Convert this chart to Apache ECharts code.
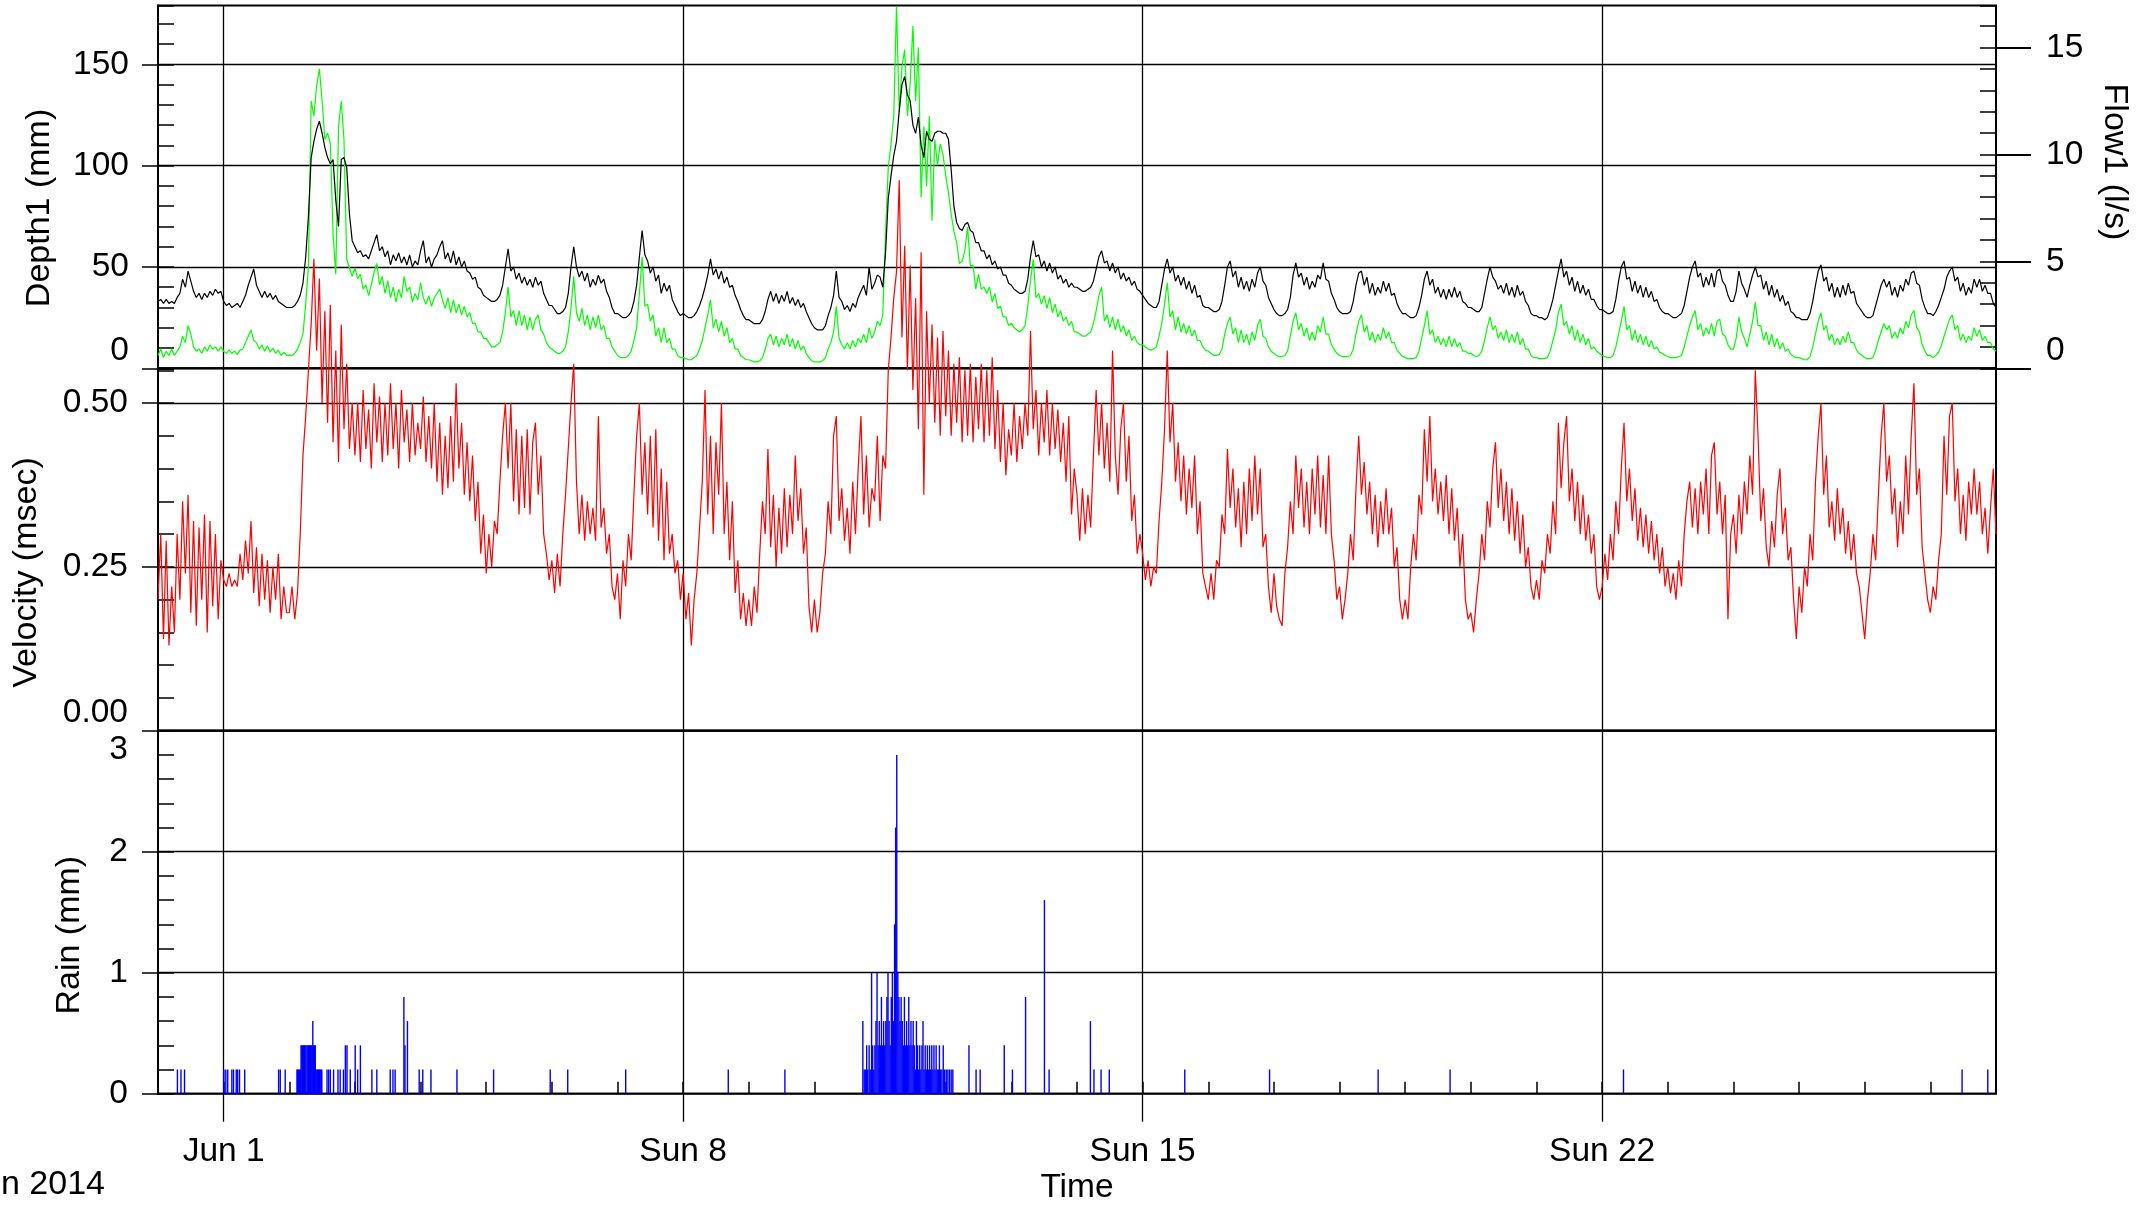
<!DOCTYPE html>
<html><head><meta charset="utf-8">
<script src="https://cdn.jsdelivr.net/npm/echarts@6/dist/echarts.min.js"></script>
<style>html,body{margin:0;padding:0;background:#fff}#chart{width:2145px;height:1208px}</style>
</head><body><div id="chart"></div>
<script>
// Hourly samples starting 2014-05-31 00:00 (x = days since May 31)
const depth = [
33,34,32,34,32,33,32,35,37,44,40,48,43,38,35,37,34,37,35,38,36,39,37,38,
33,31,32,30,31,32,30,33,36,41,45,49,41,38,35,38,35,37,34,36,33,32,31,30,
30,30,31,33,36,42,55,75,104,112,118,122,116,109,104,101,103,83,70,103,104,99,76,63,
60,57,58,55,56,54,58,62,66,58,60,55,58,51,56,53,57,52,55,51,56,50,53,51,
58,63,52,55,50,54,56,60,63,54,57,52,58,51,55,50,53,48,47,44,45,40,39,36,
35,34,33,33,34,36,41,50,59,48,50,44,47,42,45,41,44,40,45,41,43,37,34,31,
31,29,27,27,28,30,37,50,60,50,45,48,43,47,40,44,41,46,42,44,38,35,30,27,
27,26,25,25,26,28,33,41,55,68,56,53,47,50,43,46,37,42,38,41,34,31,28,26,
27,26,25,25,26,28,31,35,40,46,54,46,49,44,48,42,45,40,41,36,33,29,26,24,
24,23,22,22,22,24,28,34,38,33,37,32,36,33,38,32,35,31,34,30,32,28,25,22,
20,19,19,19,21,26,30,36,48,35,33,29,31,28,32,30,35,38,41,36,50,39,42,46,
45,40,57,84,95,105,112,127,140,144,135,132,120,116,124,110,104,117,113,112,116,117,117,116,
116,113,98,80,72,69,68,71,72,68,67,62,62,58,58,54,56,51,53,49,50,46,46,42,
41,39,38,37,37,38,44,55,63,55,56,50,53,48,52,47,50,44,46,42,44,40,42,40,
40,39,38,38,39,40,43,49,55,58,52,53,48,52,47,50,44,47,43,45,41,43,39,38,
36,34,32,31,30,30,33,41,49,54,47,50,43,46,41,45,39,43,37,41,35,36,31,30,
30,29,28,28,29,33,41,50,53,45,48,40,45,39,43,38,44,40,47,50,43,41,35,32,
29,27,26,26,27,29,35,46,52,45,47,41,45,39,43,40,46,44,52,44,43,37,34,30,
28,27,27,27,28,33,41,47,48,41,45,37,42,36,40,37,43,38,42,36,37,32,29,27,
27,26,25,25,26,30,36,44,48,41,44,37,40,35,39,34,39,35,40,35,38,33,32,30,
30,29,28,28,30,37,44,50,45,43,39,41,37,42,36,40,35,41,36,38,33,31,27,26,
26,25,25,24,25,29,34,41,48,54,45,48,41,45,38,43,37,41,36,39,34,34,31,29,
29,28,27,27,28,34,43,50,53,44,45,38,43,37,41,35,40,35,38,33,34,30,28,27,
27,26,25,25,26,27,31,38,45,50,53,45,47,40,45,41,47,40,48,49,43,41,36,33,
33,38,48,42,39,35,41,46,50,45,46,39,43,36,41,35,39,33,36,31,33,28,27,25,
25,24,24,24,27,33,41,48,51,43,45,38,42,35,40,35,41,36,42,37,38,32,30,28,
26,25,25,26,31,36,41,44,40,43,36,40,35,41,38,44,41,47,48,42,41,34,30,27,
27,26,28,31,35,39,45,48,50,43,45,38,42,36,40,37,44,40,44,38,41,37,37,32,30
];
const flow = [
0.6,0.9,0.5,0.8,0.6,0.9,0.6,0.8,1.0,1.5,1.2,2.0,1.6,1.0,0.8,0.9,0.7,1.0,0.8,1.1,0.9,1.0,0.8,1.0,
0.8,0.7,0.85,0.7,0.8,0.65,0.85,0.9,1.2,1.5,1.8,1.3,1.2,0.9,1.1,0.8,1.05,0.75,0.95,0.7,0.85,0.6,0.75,0.6,
0.6,0.6,0.7,0.9,1.2,1.6,3.0,4.8,12.5,11.8,13.2,14.0,12.5,10.7,11.0,10.5,6.3,4.4,11.3,12.5,10.7,5.1,4.7,4.3,
4.7,4.2,4.4,3.7,3.9,3.4,3.9,4.5,4.9,3.9,4.3,3.5,4.1,3.3,3.8,3.1,3.7,3.3,4.3,3.6,3.8,3.1,3.5,3.2,
4.0,3.3,3.0,3.4,2.9,3.3,3.5,3.7,3.2,2.8,3.3,2.6,3.2,2.6,3.0,2.5,2.9,2.4,2.6,2.1,2.1,1.7,1.7,1.4,
1.4,1.2,1.0,1.0,1.1,1.2,1.7,2.6,3.8,2.4,2.7,2.0,2.7,2.0,2.5,1.8,2.4,1.8,2.3,2.5,1.8,1.6,1.2,1.0,
0.9,0.8,0.7,0.7,0.8,1.0,1.7,2.8,4.3,2.6,2.2,2.8,2.0,2.5,1.8,2.4,1.9,2.5,1.8,2.0,1.4,1.4,1.0,0.8,
0.6,0.5,0.5,0.5,0.6,0.8,1.3,1.9,3.5,5.2,2.9,3.0,2.2,2.5,1.5,1.9,1.2,1.9,1.2,1.4,0.9,0.9,0.6,0.5,
0.5,0.45,0.4,0.4,0.5,0.6,0.9,1.3,1.9,2.5,3.2,1.9,2.3,1.7,2.2,1.5,1.9,1.2,1.4,0.9,0.9,0.6,0.5,0.4,
0.4,0.35,0.3,0.3,0.35,0.5,0.9,1.4,1.6,1.1,1.5,1.0,1.4,1.1,1.6,1.0,1.4,0.9,1.3,0.85,1.05,0.7,0.5,0.35,
0.3,0.3,0.3,0.35,0.5,0.9,1.2,1.7,2.9,1.4,1.1,0.9,1.2,0.9,1.3,1.0,1.4,1.2,1.6,1.2,1.9,1.4,1.7,2.2,
2.0,2.5,6.3,9.4,10.5,11.8,16.9,12.0,14.1,14.9,11.8,13.3,16.0,12.5,15.0,8.0,11.3,8.5,11.8,6.9,10.7,9.5,10.5,10.0,
9.0,8.2,7.2,6.4,5.9,4.9,5.0,5.5,6.6,4.8,4.8,3.7,4.4,3.7,3.8,3.5,3.8,3.1,3.5,2.8,2.9,2.4,2.4,2.0,
2.1,1.9,1.8,1.7,1.8,2.0,2.9,4.1,5.1,3.3,3.5,3.0,3.4,2.8,3.3,2.6,3.0,2.4,2.7,2.2,2.4,2.0,2.2,1.7,
1.7,1.6,1.5,1.5,1.6,1.7,2.1,2.7,3.4,3.8,2.2,2.5,1.9,2.4,1.8,2.3,1.7,2.0,1.5,1.8,1.3,1.5,1.2,1.1,
1.1,1.0,0.9,0.85,0.9,1.0,1.5,2.1,3.0,4.0,2.4,2.7,1.8,2.4,1.7,2.1,1.6,2.0,1.5,1.8,1.3,1.3,1.0,0.85,
0.8,0.7,0.6,0.6,0.65,0.9,1.6,2.1,2.4,1.6,1.9,1.2,1.8,1.2,1.6,1.1,1.7,1.3,2.0,2.3,1.5,1.4,1.0,0.8,
0.7,0.6,0.55,0.55,0.6,0.8,1.5,2.2,2.6,1.8,2.1,1.5,1.9,1.3,1.7,1.3,2.0,1.7,2.4,1.6,1.6,1.1,0.9,0.7,
0.6,0.55,0.55,0.55,0.6,0.9,1.6,2.2,2.5,1.7,2.0,1.3,1.7,1.2,1.6,1.3,1.9,1.4,1.7,1.2,1.2,0.85,0.7,0.55,
0.5,0.45,0.45,0.45,0.5,0.8,1.4,2.0,2.7,1.6,1.8,1.2,1.5,1.1,1.4,1.0,1.5,1.0,1.4,1.0,1.2,0.8,0.8,0.7,
0.7,0.6,0.55,0.6,0.8,1.3,1.9,2.4,1.8,2.0,1.4,1.7,1.3,1.8,1.2,1.6,1.2,1.7,1.1,1.4,0.9,0.9,0.6,0.5,
0.5,0.45,0.45,0.45,0.5,0.8,1.3,1.8,2.6,3.0,2.0,2.2,1.6,2.0,1.3,1.8,1.2,1.6,1.1,1.4,0.9,1.0,0.8,0.7,
0.6,0.55,0.5,0.5,0.6,1.0,1.6,2.2,2.9,1.8,2.0,1.3,1.8,1.2,1.6,1.1,1.5,1.0,1.3,0.9,1.0,0.75,0.7,0.6,
0.55,0.5,0.5,0.5,0.55,0.6,1.0,1.5,2.0,2.4,2.7,1.8,2.1,1.5,1.9,1.6,2.1,1.5,2.2,2.3,1.6,1.5,1.1,0.9,
0.9,1.4,2.4,1.7,1.4,1.0,1.6,2.2,3.1,2.0,2.0,1.3,1.7,1.1,1.6,1.0,1.4,0.9,1.2,0.8,0.9,0.65,0.55,0.5,
0.5,0.45,0.4,0.4,0.55,1.0,1.6,2.2,2.6,1.8,2.0,1.3,1.6,1.1,1.4,1.1,1.5,1.2,1.7,1.2,1.2,0.85,0.7,0.6,
0.5,0.45,0.45,0.5,0.85,1.3,1.7,2.1,1.8,2.0,1.4,1.7,1.4,1.9,1.6,2.2,1.9,2.5,2.7,1.9,1.7,1.1,0.8,0.6,
0.6,0.5,0.6,0.75,1.05,1.5,1.9,2.3,2.5,1.8,2.0,1.3,1.6,1.2,1.5,1.3,1.9,1.5,1.8,1.3,1.5,1.2,1.2,0.9,0.8
];
const velocity = [
0.2,0.3,0.14,0.29,0.13,0.22,0.15,0.3,0.2,0.35,0.24,0.36,0.18,0.32,0.16,0.31,0.2,0.33,0.15,0.32,0.19,0.3,0.17,0.26,
0.23,0.22,0.24,0.22,0.23,0.22,0.27,0.23,0.29,0.24,0.32,0.21,0.28,0.19,0.27,0.2,0.26,0.18,0.25,0.2,0.27,0.17,0.22,0.18,
0.18,0.22,0.17,0.21,0.3,0.42,0.48,0.55,0.62,0.72,0.58,0.69,0.5,0.64,0.47,0.65,0.44,0.58,0.41,0.62,0.46,0.56,0.43,0.5,
0.42,0.5,0.41,0.52,0.43,0.49,0.4,0.53,0.44,0.51,0.41,0.5,0.42,0.53,0.43,0.5,0.4,0.52,0.44,0.49,0.41,0.5,0.42,0.47,
0.43,0.51,0.41,0.48,0.4,0.5,0.38,0.47,0.36,0.45,0.37,0.48,0.38,0.53,0.4,0.47,0.36,0.44,0.35,0.42,0.32,0.38,0.27,0.33,
0.24,0.3,0.25,0.32,0.3,0.38,0.45,0.5,0.4,0.5,0.35,0.46,0.33,0.45,0.34,0.46,0.33,0.44,0.47,0.36,0.42,0.3,0.27,0.23,
0.26,0.21,0.27,0.22,0.3,0.36,0.43,0.5,0.56,0.38,0.3,0.36,0.29,0.35,0.3,0.34,0.29,0.48,0.31,0.34,0.27,0.3,0.22,0.2,
0.24,0.17,0.26,0.22,0.3,0.26,0.36,0.45,0.5,0.36,0.44,0.33,0.45,0.31,0.46,0.29,0.4,0.26,0.38,0.27,0.3,0.24,0.26,0.2,
0.24,0.17,0.21,0.13,0.2,0.24,0.31,0.38,0.52,0.33,0.45,0.3,0.44,0.36,0.5,0.3,0.38,0.26,0.35,0.21,0.26,0.17,0.21,0.16,
0.2,0.16,0.22,0.18,0.27,0.35,0.3,0.43,0.28,0.36,0.25,0.34,0.27,0.37,0.28,0.36,0.3,0.42,0.32,0.37,0.27,0.31,0.19,0.15,
0.2,0.15,0.18,0.24,0.27,0.35,0.3,0.45,0.48,0.32,0.37,0.29,0.34,0.27,0.38,0.3,0.4,0.48,0.33,0.42,0.31,0.37,0.35,0.45,
0.32,0.42,0.4,0.55,0.6,0.66,0.7,0.84,0.6,0.74,0.55,0.71,0.52,0.66,0.46,0.73,0.36,0.64,0.5,0.62,0.47,0.6,0.45,0.61,
0.48,0.58,0.45,0.56,0.47,0.57,0.44,0.55,0.45,0.56,0.44,0.54,0.46,0.56,0.44,0.55,0.45,0.57,0.43,0.52,0.41,0.5,0.39,0.46,
0.42,0.5,0.41,0.48,0.43,0.5,0.45,0.61,0.46,0.52,0.42,0.5,0.44,0.52,0.42,0.5,0.43,0.49,0.41,0.47,0.38,0.48,0.33,0.4,
0.36,0.29,0.37,0.3,0.36,0.31,0.42,0.52,0.42,0.5,0.4,0.47,0.38,0.58,0.42,0.36,0.46,0.5,0.38,0.45,0.32,0.36,0.27,0.3,
0.27,0.23,0.26,0.22,0.25,0.24,0.32,0.38,0.46,0.58,0.44,0.5,0.38,0.44,0.35,0.42,0.33,0.4,0.34,0.42,0.3,0.35,0.24,0.22,
0.2,0.24,0.2,0.26,0.25,0.33,0.3,0.43,0.34,0.4,0.31,0.37,0.28,0.38,0.3,0.4,0.32,0.42,0.33,0.4,0.28,0.3,0.22,0.18,
0.24,0.19,0.17,0.16,0.24,0.28,0.35,0.3,0.42,0.34,0.4,0.31,0.38,0.3,0.4,0.33,0.42,0.31,0.39,0.3,0.42,0.3,0.26,0.2,
0.22,0.17,0.2,0.24,0.3,0.26,0.37,0.45,0.36,0.41,0.33,0.38,0.3,0.36,0.28,0.35,0.3,0.37,0.3,0.34,0.25,0.28,0.2,0.17,
0.2,0.17,0.25,0.3,0.26,0.36,0.33,0.46,0.38,0.48,0.35,0.4,0.33,0.38,0.32,0.39,0.3,0.37,0.29,0.34,0.25,0.3,0.2,0.17,
0.18,0.15,0.2,0.24,0.3,0.26,0.35,0.31,0.4,0.44,0.34,0.4,0.32,0.38,0.3,0.37,0.29,0.35,0.27,0.33,0.25,0.28,0.22,0.2,
0.23,0.2,0.26,0.24,0.3,0.27,0.35,0.3,0.47,0.37,0.44,0.48,0.35,0.4,0.32,0.38,0.3,0.36,0.29,0.33,0.27,0.3,0.22,0.2,
0.22,0.27,0.23,0.3,0.26,0.35,0.3,0.4,0.47,0.35,0.4,0.32,0.37,0.29,0.34,0.28,0.33,0.27,0.32,0.26,0.3,0.24,0.28,0.22,
0.25,0.21,0.24,0.2,0.26,0.22,0.3,0.35,0.38,0.31,0.37,0.3,0.38,0.33,0.4,0.3,0.42,0.44,0.33,0.38,0.3,0.36,0.17,0.3,
0.33,0.27,0.36,0.3,0.38,0.33,0.42,0.36,0.55,0.45,0.32,0.37,0.28,0.25,0.32,0.28,0.36,0.4,0.3,0.34,0.26,0.28,0.2,0.14,
0.22,0.18,0.25,0.22,0.3,0.26,0.38,0.45,0.5,0.36,0.42,0.31,0.35,0.29,0.37,0.3,0.34,0.27,0.32,0.26,0.3,0.24,0.22,0.18,
0.14,0.2,0.24,0.3,0.26,0.36,0.45,0.5,0.38,0.42,0.33,0.37,0.28,0.35,0.3,0.42,0.33,0.45,0.53,0.36,0.4,0.28,0.24,0.2,
0.18,0.22,0.2,0.26,0.3,0.45,0.36,0.48,0.5,0.35,0.4,0.3,0.36,0.29,0.38,0.33,0.4,0.33,0.38,0.3,0.34,0.27,0.34,0.4,0.3
];
// Rain tips: [hours since May 31 00:00, mm]
const rainEvents = [
[7.1,0.2],[8.4,0.2],[9.7,0.2],
[24.1,0.2],[24.8,0.2],[25.5,0.2],[27.0,0.2],[27.6,0.2],[28.6,0.2],[29.1,0.2],[29.8,0.2],[31.7,0.2],
[44.1,0.2],[44.7,0.2],[46.5,0.2],
[50.8,0.2],[51.1,0.2],[51.4,0.2],[51.7,0.2],[52.0,0.2],[52.3,0.4],[52.6,0.4],[52.9,0.4],[53.2,0.4],[53.5,0.4],[53.8,0.4],[54.1,0.4],
[54.5,0.4],[54.8,0.4],[55.1,0.4],[55.4,0.4],[55.7,0.4],[56.0,0.4],[56.3,0.4],[56.6,0.6],[56.9,0.4],[57.2,0.4],[57.5,0.4],[57.8,0.2],
[58.1,0.2],[58.4,0.2],[58.7,0.2],[59.0,0.2],[59.3,0.2],[59.6,0.2],[59.9,0.2],
[61.8,0.2],[62.4,0.2],[63.0,0.2],[64.2,0.2],[65.8,0.2],[66.6,0.2],[67.8,0.2],[68.5,0.4],[69.1,0.4],[70.3,0.2],[72.1,0.4],[73.0,0.2],[74.0,0.4],
[78.2,0.2],[80.0,0.2],[84.9,0.2],[85.9,0.2],[86.7,0.2],[89.9,0.8],[90.3,0.4],[91.2,0.6],[95.5,0.2],[96.8,0.2],[99.8,0.2],
[109.3,0.2],[122.7,0.2],[143.4,0.2],[149.8,0.2],[171.0,0.2],[208.5,0.2],[229.2,0.2],
[257.7,0.6],[258.2,0.2],[258.6,0.2],[259.1,0.4],[259.5,0.2],[260.0,0.4],[260.4,0.2],[260.9,1.0],[261.3,0.4],[261.7,0.2],
[262.1,0.4],[262.5,0.6],[262.9,1.0],[263.3,0.4],[263.7,0.6],[264.1,0.4],[264.5,0.8],[264.9,0.4],[265.3,0.6],[265.7,0.4],
[266.1,0.6],[266.5,0.8],[266.9,1.0],[267.3,0.6],[267.7,0.4],[268.1,0.8],[268.5,1.0],[268.9,0.6],[269.3,1.4],[269.7,2.2],
[270.1,2.8],[270.5,1.0],[270.9,0.8],[271.3,0.6],[271.7,0.8],[272.1,0.6],[272.5,0.4],[272.9,0.8],[273.3,0.4],[273.7,0.6],
[274.1,0.4],[274.5,0.8],[274.9,0.4],[275.3,0.6],[275.7,0.4],[276.1,0.6],[276.5,0.4],[276.9,0.2],[277.3,0.6],[277.7,0.4],
[278.1,0.2],[278.5,0.4],[278.9,0.2],[279.3,0.4],[279.7,0.6],[280.1,0.2],[280.5,0.4],[280.9,0.2],[281.3,0.4],[281.7,0.2],
[282.1,0.4],[282.5,0.2],[282.9,0.4],[283.3,0.2],[283.7,0.4],[284.1,0.2],[284.5,0.4],[284.9,0.2],[285.3,0.2],[285.7,0.4],
[286.1,0.2],[286.6,0.2],[287.1,0.4],[287.6,0.2],[288.2,0.2],[288.8,0.2],[289.4,0.2],[290.0,0.2],[290.6,0.2],
[296.5,0.4],[299.1,0.2],[300.6,0.2],[309.4,0.4],[312.4,0.2],[317.2,0.8],[324.1,1.6],[325.8,0.2],[340.9,0.6],[342.2,0.2],[344.8,0.2],[347.8,0.2],
[375.4,0.2],[406.4,0.2],[446.1,0.2],[472.4,0.2],[535.8,0.2],[659.6,0.2],[669.0,0.2]
];
const xTickDays = [1, 8, 15, 22];
const xTickLabels = ['Jun 1', 'Sun 8', 'Sun 15', 'Sun 22'];
const depthTicks = [0, 50, 100, 150];
const flowTicks = [0, 5, 10, 15];
const velTicks = [0, 0.25, 0.5];
const rainTicks = [0, 1, 2, 3];

const FONT = "'Liberation Sans', Arial, sans-serif";
const FS = 33.5;   // tick labels
const FN = 34;     // axis titles
const T = 'rgba(0,0,0,0)';
const near = (v, arr) => arr.findIndex(t => Math.abs(t - v) < 1e-6);

const toSeries = arr => arr.map((v, i) => [i / 24, v]);
const rainData = rainEvents.map(e => [e[0] / 24, e[1]]);

const LEFT = 158, RIGHT = 149;
const weekColors = [T, '#000', T, T, T, T, T];
function xAx(gi, extra) {
  return Object.assign({
    type: 'value', gridIndex: gi, min: 0, max: 28, interval: 1,
    axisLine: { show: false }, axisTick: { show: false }, axisLabel: { show: false },
    splitLine: { show: true, showMinLine: true, showMaxLine: true, lineStyle: { color: weekColors, width: 1.3 } }
  }, extra || {});
}
const tickStyle = { color: '#000', width: 1.5 };
const labelBase = { fontSize: FS, color: '#000', fontFamily: FONT };
const richUp = { up: { padding: [0, 0, 36, 0], fontSize: FS, color: '#000', fontFamily: FONT },
                 dn: { padding: [38, 0, 0, 0], fontSize: FS, color: '#000', fontFamily: FONT } };
const nameStyle = pad => ({ fontSize: FN, color: '#000', fontFamily: FONT, padding: [0, pad, 0, 0] });

const option = {
  animation: false,
  backgroundColor: '#fff',
  textStyle: { fontFamily: FONT },
  grid: [
    { left: LEFT, right: RIGHT, top: 5.6, height: 362.7, show: true, borderColor: '#000', borderWidth: 2 },
    { left: LEFT, right: RIGHT, top: 368.3, height: 362.4, show: true, borderColor: '#000', borderWidth: 2 },
    { left: LEFT, right: RIGHT, top: 730.7, height: 363, show: true, borderColor: '#000', borderWidth: 2 },
    { left: LEFT, right: RIGHT, top: 1093.7, height: 28, show: false }
  ],
  xAxis: [
    xAx(0), xAx(1),
    xAx(2, { axisTick: { show: true, inside: true, length: 12, lineStyle: tickStyle } }),
    xAx(3, {
      axisLabel: Object.assign({ show: true, margin: 13, showMinLabel: true, showMaxLabel: true,
        formatter: v => { const k = near(v, xTickDays); return k >= 0 ? xTickLabels[k] : ''; } }, labelBase),
      name: 'Time', nameLocation: 'middle', nameGap: 49, nameTextStyle: labelBase
    })
  ],
  yAxis: [
    { // 0 depth
      type: 'value', gridIndex: 0, position: 'left', min: 0, max: 179, interval: 10,
      axisLine: { show: true, lineStyle: { color: '#000', width: 2 } },
      axisTick: { show: true, inside: true, length: 16, lineStyle: tickStyle },
      axisLabel: Object.assign({ margin: 29, showMinLabel: true, rich: richUp,
        formatter: v => { const k = near(v, depthTicks); if (k < 0) return ''; return v === 0 ? '{up|0}' : String(depthTicks[k]); } }, labelBase),
      splitLine: { show: true, showMinLine: true, showMaxLine: true, lineStyle: { color: ['#000', T, T, T, T], width: 1.3 } },
      name: 'Depth1 (mm)', nameLocation: 'middle', nameRotate: 90, nameGap: 101, nameTextStyle: nameStyle(42)
    },
    { // 1 depth outer major ticks
      type: 'value', gridIndex: 0, position: 'left', min: 0, max: 179, interval: 50,
      axisLine: { show: false }, axisLabel: { show: false }, splitLine: { show: false },
      axisTick: { show: true, inside: false, length: 16, customValues: depthTicks, lineStyle: tickStyle }
    },
    { // 2 flow
      type: 'value', gridIndex: 0, position: 'right', min: 0, max: 16.96, interval: 1,
      axisLine: { show: false },
      axisTick: { show: true, inside: true, length: 16, lineStyle: tickStyle },
      axisLabel: Object.assign({ margin: 50, showMinLabel: true, rich: richUp,
        formatter: v => { const k = near(v, flowTicks); if (k < 0) return ''; return v === 0 ? '{up|0}' : String(flowTicks[k]); } }, labelBase),
      splitLine: { show: false },
      name: 'Flow1 (l/s)', nameLocation: 'middle', nameRotate: -90, nameGap: 101, nameTextStyle: nameStyle(50)
    },
    { // 3 flow outer major ticks
      type: 'value', gridIndex: 0, position: 'right', min: 0, max: 16.96, interval: 5,
      axisLine: { show: false }, axisLabel: { show: false }, splitLine: { show: false },
      axisTick: { show: true, inside: false, length: 35, customValues: flowTicks, lineStyle: { color: '#000', width: 2 } }
    },
    { // 4 velocity
      type: 'value', gridIndex: 1, position: 'left', min: 0, max: 0.553, interval: 0.05,
      axisLine: { show: true, lineStyle: { color: '#000', width: 2 } },
      axisTick: { show: true, inside: true, length: 16, lineStyle: tickStyle },
      axisLabel: Object.assign({ margin: 30, showMinLabel: true, rich: richUp,
        formatter: v => { const k = near(v, velTicks); if (k < 0) return ''; return k === 0 ? '{up|0.00}' : velTicks[k].toFixed(2); } }, labelBase),
      splitLine: { show: true, showMinLine: true, showMaxLine: true, lineStyle: { color: ['#000', T, T, T, T], width: 1.3 } },
      name: 'Velocity (msec)', nameLocation: 'middle', nameRotate: 90, nameGap: 114, nameTextStyle: nameStyle(46)
    },
    { // 5 velocity outer major ticks
      type: 'value', gridIndex: 1, position: 'left', min: 0, max: 0.553, interval: 0.25,
      axisLine: { show: false }, axisLabel: { show: false }, splitLine: { show: false },
      axisTick: { show: true, inside: false, length: 16, customValues: velTicks, lineStyle: tickStyle }
    },
    { // 6 rain
      type: 'value', gridIndex: 2, position: 'left', min: 0, max: 3, interval: 0.2,
      axisLine: { show: true, lineStyle: { color: '#000', width: 2 } },
      axisTick: { show: true, inside: true, length: 16, lineStyle: tickStyle },
      axisLabel: Object.assign({ margin: 30, showMinLabel: true, showMaxLabel: true, rich: richUp,
        formatter: v => { const k = near(v, rainTicks); if (k < 0) return ''; return k === rainTicks.length - 1 ? '{dn|' + rainTicks[k] + '}' : String(rainTicks[k]); } }, labelBase),
      splitLine: { show: true, showMinLine: true, showMaxLine: true, lineStyle: { color: ['#000', T, T, T, T], width: 1.3 } },
      name: 'Rain (mm)', nameLocation: 'middle', nameRotate: 90, nameGap: 71, nameTextStyle: nameStyle(46)
    },
    { // 7 rain outer major ticks
      type: 'value', gridIndex: 2, position: 'left', min: 0, max: 3, interval: 1,
      axisLine: { show: false }, axisLabel: { show: false }, splitLine: { show: false },
      axisTick: { show: true, inside: false, length: 16, customValues: rainTicks, lineStyle: tickStyle }
    },
    { // 8 hidden axis for the tick-extension strip
      type: 'value', gridIndex: 3, min: 0, max: 1, show: false
    }
  ],
  series: [
    { type: 'line', name: 'Flow1', xAxisIndex: 0, yAxisIndex: 2, data: toSeries(flow), symbol: 'none',
      lineStyle: { color: '#00ff00', width: 1.2 }, itemStyle: { color: '#00ff00' }, z: 2, silent: true },
    { type: 'line', name: 'Depth1', xAxisIndex: 0, yAxisIndex: 0, data: toSeries(depth), symbol: 'none',
      lineStyle: { color: '#000000', width: 1.2 }, itemStyle: { color: '#000' }, z: 3, silent: true },
    { type: 'line', name: 'Velocity', xAxisIndex: 1, yAxisIndex: 4, data: toSeries(velocity), symbol: 'none', clip: false,
      lineStyle: { color: '#ff0000', width: 1.2 }, itemStyle: { color: '#ff0000' }, z: 4, silent: true },
    { type: 'bar', name: 'Rain', xAxisIndex: 2, yAxisIndex: 6, data: rainData, barWidth: 1.4,
      itemStyle: { color: '#0000ff' }, z: 3, silent: true }
  ],
  graphic: [
    { type: 'text', x: 105, y: 1185, silent: true,
      style: { text: 'Jun 2014', align: 'right', verticalAlign: 'middle', fontSize: FN, fontFamily: FONT, fill: '#000' } }
  ]
};
const chart = echarts.init(document.getElementById('chart'), null, { renderer: 'canvas' });
chart.setOption(option);
</script></body></html>
